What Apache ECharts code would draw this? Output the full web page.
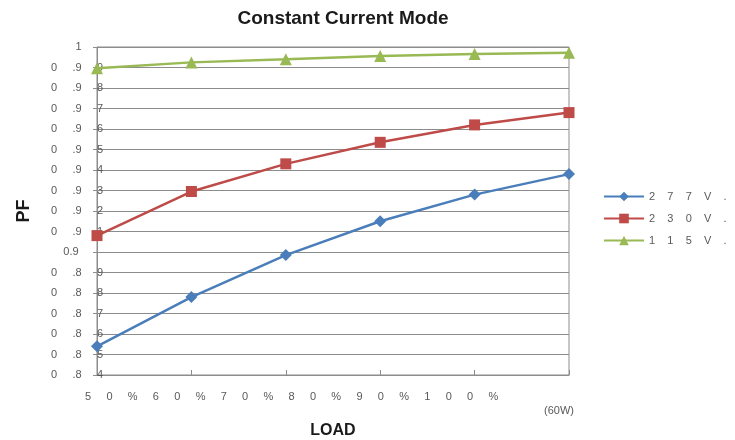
<!DOCTYPE html>
<html>
<head>
<meta charset="utf-8">
<script src="https://cdn.jsdelivr.net/npm/echarts@6/dist/echarts.min.js"></script>
<style>
  html, body { margin: 0; padding: 0; background: #fff; }
  #chart { width: 735px; height: 440px; }
</style>
</head>
<body>
<div id="chart"></div>
<script>
const categories = ['50%', '60%', '70%', '80%', '90%', '100%'];
const v277 = [0.854, 0.878, 0.8985, 0.915, 0.928, 0.938];
const v230 = [0.908, 0.9295, 0.943, 0.9535, 0.962, 0.968];
const v115 = [0.9896, 0.9925, 0.994, 0.9956, 0.9966, 0.9972];
const seriesNames = ['277V.', '230V.', '115V.'];
const loadNote = '(60W)';

const COLORS = ['#4a7ebb', '#be4b48', '#98b954'];
const SYMBOLS = ['diamond', 'rect', 'triangle'];
const TEXT = '#595959';
const FONT = '"Liberation Sans", Arial, sans-serif';

const spaced = (s, gap) => s.split('').join(gap);

function yLabel(v) {
  const s = v.toFixed(2);
  if (s === '1.00') return '1' + ' '.repeat(7);
  if (s === '0.90') return '0.9' + ' '.repeat(8);
  return s[0] + '     ' + s.slice(1, 3) + '     ' + s[3];
}

const chart = echarts.init(document.getElementById('chart'));
chart.setOption({
  animation: false,
  title: {
    text: 'Constant Current Mode', left: 338, top: 4, textAlign: 'center',
    textStyle: { fontFamily: FONT, fontSize: 19, fontWeight: 'bold', color: '#1a1a1a' }
  },
  legend: {
    orient: 'vertical', left: 598, top: 186, itemWidth: 40, itemHeight: 12, itemGap: 11,
    data: seriesNames,
    formatter: n => spaced(n, '    '),
    textStyle: { fontFamily: FONT, fontSize: 11, color: TEXT }
  },
  grid: {
    left: 97, right: 166, top: 47, bottom: 65,
    outerBoundsMode: 'none', containLabel: false,
    show: true, borderColor: '#8c8c8c', borderWidth: 1
  },
  xAxis: {
    type: 'category', data: categories, boundaryGap: false,
    name: 'LOAD', nameLocation: 'middle', nameGap: 48,
    nameTextStyle: { fontFamily: FONT, fontSize: 16, fontWeight: 'bold', color: '#1a1a1a' },
    axisLine: { lineStyle: { color: '#8c8c8c', width: 1 } },
    axisTick: { show: true, inside: true, length: 5, lineStyle: { color: '#8c8c8c' } },
    axisLabel: { show: false },
    splitLine: { show: false }
  },
  yAxis: {
    type: 'value', min: 0.84, max: 1, interval: 0.01,
    name: 'PF', nameLocation: 'middle', nameGap: 64, nameRotate: 90,
    nameTextStyle: { fontFamily: FONT, fontSize: 18, fontWeight: 'bold', color: '#1a1a1a' },
    axisLine: { show: true, lineStyle: { color: '#8c8c8c', width: 1 } },
    axisTick: { show: true, length: 4, lineStyle: { color: '#8c8c8c' } },
    axisLabel: { formatter: yLabel, margin: -6, fontFamily: FONT, fontSize: 11, color: TEXT },
    splitLine: { lineStyle: { color: '#8c8c8c', width: 1 } }
  },
  graphic: [
    {
      type: 'text', left: 85, top: 391,
      style: { text: spaced(categories.join(''), '     '), font: '11px ' + FONT, fill: TEXT }
    },
    {
      type: 'text', left: 544, top: 405,
      style: { text: loadNote, font: '11px ' + FONT, fill: TEXT }
    }
  ],
  series: [v277, v230, v115].map((d, i) => ({
    name: seriesNames[i], type: 'line', data: d,
    symbol: SYMBOLS[i], symbolSize: i === 1 ? 11 : 12, showSymbol: true,
    lineStyle: { color: COLORS[i], width: 2.5 },
    itemStyle: { color: COLORS[i] }
  }))
});
</script>
</body>
</html>
